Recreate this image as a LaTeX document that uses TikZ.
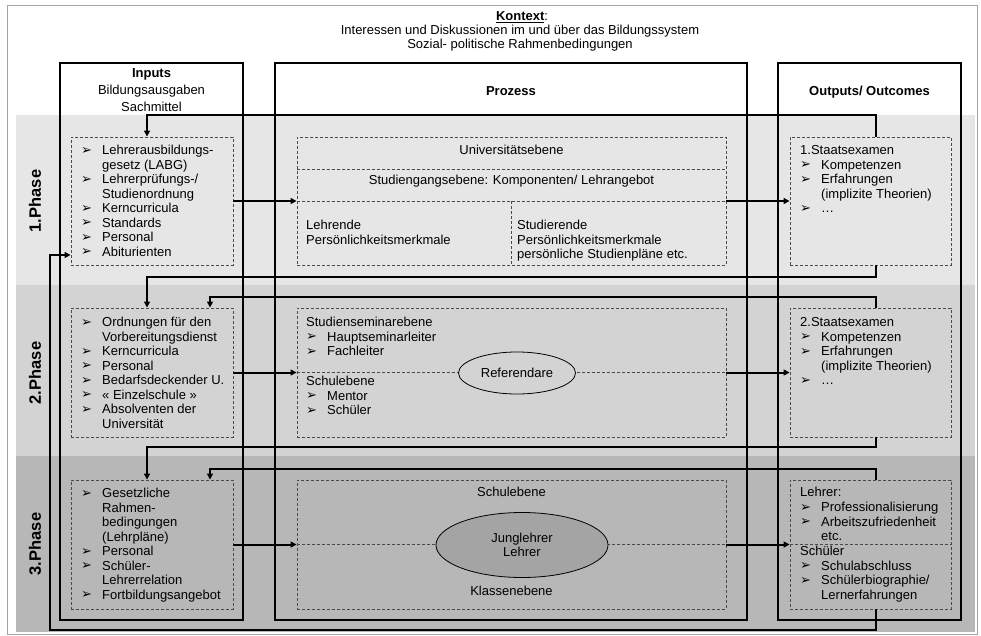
\documentclass[tikz,border=0pt]{standalone}
\usepackage{fontspec}
\setmainfont{Liberation Sans}
\newfontfamily\symfont{DejaVu Sans}
\usetikzlibrary{arrows.meta,shapes.geometric}
\definecolor{bandA}{HTML}{E6E6E6}
\definecolor{bandB}{HTML}{D3D3D3}
\definecolor{bandC}{HTML}{B7B7B7}
\definecolor{ellC}{HTML}{A4A4A4}
\definecolor{dashc}{HTML}{4A4A4A}
\newcommand\bi[1]{\makebox[21pt][l]{\raisebox{0.3pt}{\symfont\fontsize{13}{13}\selectfont ➢}}#1}
\newcommand\ci[1]{\hspace*{21pt}#1}
\newcommand\fs{\rule{0pt}{11pt}}
\tikzset{
  colframe/.style={draw=black, line width=2pt},
  dbox/.style={draw=dashc, dash pattern=on 3pt off 2pt, line width=0.9pt, inner sep=0pt},
  dline/.style={draw=dashc, dash pattern=on 3pt off 2pt, line width=0.9pt},
  txt/.style={inner sep=0pt, align=left, anchor=north west, font=\fontsize{13}{14.5}\selectfont},
  ctxt/.style={inner sep=0pt, anchor=base, font=\fontsize{13}{14.5}\selectfont},
  hd/.style={inner sep=0pt, anchor=base, font=\bfseries\fontsize{13}{15}\selectfont},
  phase/.style={inner sep=0pt, rotate=90, font=\bfseries\fontsize{16.5}{18}\selectfont},
  fb/.style={draw=black, line width=2pt},
  arr/.style={draw=black, line width=2pt, -{Triangle[length=6pt,width=6pt]}},
  ell/.style={ellipse, draw=black, line width=0.8pt, inner sep=0pt, align=center, font=\fontsize{13}{14.5}\selectfont},
}
\begin{document}
\begin{tikzpicture}[x=1pt,y=-1pt]
\useasboundingbox (0,0) rectangle (981,636);
\fill[white] (0,0) rectangle (981,636);
\draw[gray!70, line width=0.8pt] (7,5) rectangle (977,634);
% bands
\fill[bandA] (16,115) rectangle (975,285);
\fill[bandB] (16,285) rectangle (975,456);
\fill[bandC] (16,456) rectangle (975,632);
% header
\node[ctxt] (kontext) at (522,20.5) {\underline{\textbf{Kontext}}:};
\node[ctxt] (interessen) at (520,34.5) {Interessen und Diskussionen im und über das Bildungssystem};
\node[ctxt] (sozial) at (520,48.5) {Sozial- politische Rahmenbedingungen};
% column frames
\draw[colframe] (60,63) rectangle (243,620);
\draw[colframe] (275,63) rectangle (747,620);
\draw[colframe] (778,63) rectangle (961,620);
\node[hd] (inputs) at (151.5,77.5) {Inputs};
\node[ctxt] (bildung) at (151.5,94.5) {Bildungsausgaben};
\node[ctxt] (sach) at (151.5,111.5) {Sachmittel};
\node[hd] (prozess) at (511,95.5) {Prozess};
\node[hd] (outputs) at (869.5,96) {Outputs/ Outcomes};
% phase labels
\node[phase] (ph1) at (35,201) {1.Phase};
\node[phase] (ph2) at (35,373) {2.Phase};
\node[phase] (ph3) at (35,544) {3.Phase};
% dashed boxes
\node[dbox, minimum width=162pt, minimum height=128pt] (in1) at (152,201) {};
\node[dbox, minimum width=162pt, minimum height=129pt] (in2) at (152,372.5) {};
\node[dbox, minimum width=162pt, minimum height=129pt] (in3) at (152,544.5) {};
\node[dbox, minimum width=429pt, minimum height=128pt] (pr1) at (511.5,201) {};
\node[dbox, minimum width=429pt, minimum height=129pt] (pr2) at (511.5,372.5) {};
\node[dbox, minimum width=429pt, minimum height=129pt] (pr3) at (511.5,544.5) {};
\node[dbox, minimum width=161pt, minimum height=128pt] (out1) at (870.5,201) {};
\node[dbox, minimum width=161pt, minimum height=129pt] (out2) at (870.5,372.5) {};
\node[dbox, minimum width=161pt, minimum height=129pt] (out3) at (870.5,544.5) {};
% inner dashed lines
\draw[dline] (pr1.west) ++(0,-32) -- ++(429,0);
\draw[dline] (pr1.west) -- (pr1.east);
\draw[dline] (pr1.center) -- (pr1.south);
\draw[dline] (pr2.west) -- (pr2.east);
\draw[dline] (pr3.west) -- (pr3.east);
\draw[dline] (out3.west) -- (out3.east);
% ellipses
\node[ell, fill=bandB, minimum width=117pt, minimum height=42pt] (ref) at (517,373) {Referendare};
\node[ell, fill=ellC, minimum width=172pt, minimum height=65pt] (jung) at (522,545) {Junglehrer\\Lehrer};
% texts: inputs
\node[txt] (tin1) at (81,143.5) {\fs\bi{Lehrerausbildungs-}\\\ci{gesetz (LABG)}\\\bi{Lehrerprüfungs-/}\\\ci{Studienordnung}\\\bi{Kerncurricula}\\\bi{Standards}\\\bi{Personal}\\\bi{Abiturienten}};
\node[txt] (tin2) at (81,315.5) {\fs\bi{Ordnungen für den}\\\ci{Vorbereitungsdienst}\\\bi{Kerncurricula}\\\bi{Personal}\\\bi{Bedarfsdeckender U.}\\\bi{« Einzelschule »}\\\bi{Absolventen der}\\\ci{Universität}};
\node[txt] (tin3) at (81,486.5) {\fs\bi{Gesetzliche}\\\ci{Rahmen-}\\\ci{bedingungen}\\\ci{(Lehrpläne)}\\\bi{Personal}\\\bi{Schüler-}\\\ci{Lehrerrelation}\\\bi{Fortbildungsangebot}};
% texts: process
\node[ctxt] (uni) at (511.5,154.5) {Universitätsebene};
\node[ctxt] (stud) at (511.5,184.5) {Studiengangsebene: Komponenten/ Lehrangebot};
\node[txt] (lehrende) at (306,218.5) {\fs Lehrende\\Persönlichkeitsmerkmale};
\node[txt] (studierende) at (517,218.5) {\fs Studierende\\Persönlichkeitsmerkmale\\persönliche Studienpläne etc.};
\node[txt] (seminar) at (306,315.5) {\fs Studienseminarebene\\\bi{Hauptseminarleiter}\\\bi{Fachleiter}};
\node[txt] (schule2) at (306,374.5) {\fs Schulebene\\\bi{Mentor}\\\bi{Schüler}};
\node[ctxt] (schule3) at (511.5,496.5) {Schulebene};
\node[ctxt] (klasse) at (511.5,595.5) {Klassenebene};
% texts: outputs
\node[txt] (tout1) at (800,143.5) {\fs 1.Staatsexamen\\\bi{Kompetenzen}\\\bi{Erfahrungen}\\\ci{(implizite Theorien)}\\\bi{…}};
\node[txt] (tout2) at (800,315.5) {\fs 2.Staatsexamen\\\bi{Kompetenzen}\\\bi{Erfahrungen}\\\ci{(implizite Theorien)}\\\bi{…}};
\node[txt, font=\fontsize{13}{14.7}\selectfont] (tout3) at (800,485.5) {\fs Lehrer:\\\bi{Professionalisierung}\\\bi{Arbeitszufriedenheit}\\\ci{etc.}\\Schüler\\\bi{Schulabschluss}\\\bi{Schülerbiographie/}\\\ci{Lernerfahrungen}};
% phase arrows
\draw[arr] (in1.east) -- (pr1.west);
\draw[arr] (pr1.east) -- (out1.west);
\draw[arr] (in2.east) -- (pr2.west);
\draw[arr] (pr2.east) -- (out2.west);
\draw[arr] (in3.east) -- (pr3.west);
\draw[arr] (pr3.east) -- (out3.west);
% feedback connectors
\coordinate (fbx) at (876,0);
\coordinate (fba) at (147,0);
\coordinate (fbb) at (210,0);
\coordinate (fbl) at (50,0);
\coordinate (abit) at (0,255);
\draw[arr] (out1.north -| fbx) -- ++(0,-22) -| (in1.north -| fba);
\draw[arr] (out1.south -| fbx) -- ++(0,12) -| (in2.north -| fba);
\draw[arr] (out2.north -| fbx) -- ++(0,-11) -| (in2.north -| fbb);
\draw[arr] (out2.south -| fbx) -- ++(0,10) -| (in3.north -| fba);
\draw[arr] (out3.north -| fbx) -- ++(0,-11) -| (in3.north -| fbb);
\draw[arr] (out3.south -| fbx) -- ++(0,21) -| (fbl |- abit) -- (in1.west |- abit);
\end{tikzpicture}
\end{document}
